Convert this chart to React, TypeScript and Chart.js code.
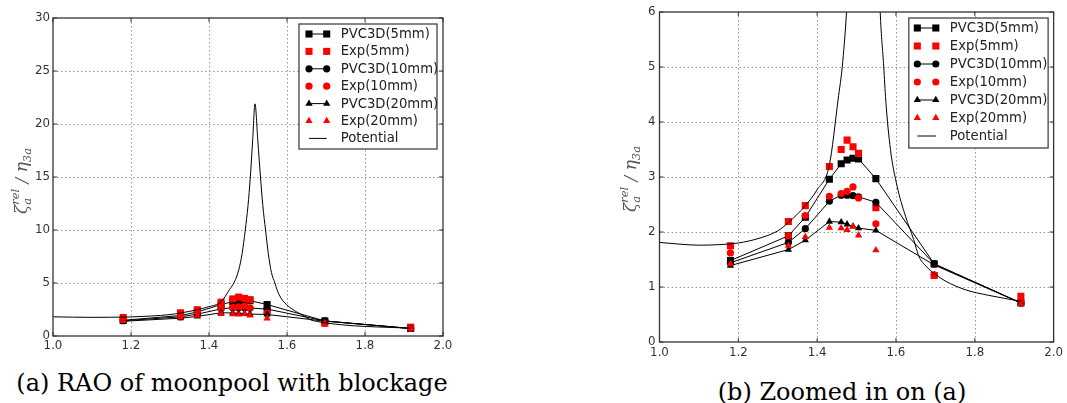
import React, { useEffect, useRef } from "react";
import { Chart, registerables } from "chart.js";

Chart.register(...registerables);

// ---------- data ----------
const frequency = [1.18, 1.327, 1.37, 1.431, 1.461, 1.476, 1.491, 1.505, 1.549, 1.697, 1.917];
const pvc3d5mm = [1.48, 1.93, 2.27, 2.96, 3.24, 3.31, 3.34, 3.33, 2.97, 1.42, 0.71];
const exp5mm = [1.75, 2.19, 2.48, 3.19, 3.5, 3.67, 3.55, 3.43, 2.44, 1.21, 0.83];
const pvc3d10mm = [1.44, 1.81, 2.06, 2.56, 2.67, 2.67, 2.66, 2.64, 2.54, 1.42, 0.71];
const exp10mm = [1.62, 1.93, 2.3, 2.65, 2.7, 2.74, 2.82, 2.62, 2.15, 1.22, 0.72];
const pvc3d20mm = [1.39, 1.68, 1.85, 2.19, 2.18, 2.14, 2.1, 2.07, 2.03, 1.4, 0.71];
const exp20mm = [1.42, 1.75, 1.91, 2.08, 2.07, 2.04, 2.1, 1.94, 1.67, 1.22, 0.7];

const potentialFreq = [
  1.0, 1.05, 1.1, 1.15, 1.2, 1.25, 1.3, 1.327, 1.37, 1.4, 1.431, 1.453, 1.465, 1.476, 1.485,
  1.493, 1.5, 1.506, 1.512, 1.518, 1.525, 1.532, 1.538, 1.545, 1.552, 1.56, 1.569, 1.574,
  1.586, 1.603, 1.624, 1.645, 1.658, 1.676, 1.7, 1.725, 1.776, 1.834, 1.917,
];
const potentialRao = [
  1.81, 1.78, 1.76, 1.77, 1.8, 1.88, 2.02, 2.17, 2.48, 2.77, 3.22, 4.4, 5.1, 6.2, 7.8,
  10, 12.3, 15, 18.5, 21.9, 18.5, 15, 12.3, 10, 7.8, 6.0, 5.0, 4.4,
  3.5, 2.83, 2.29, 1.86, 1.56, 1.38, 1.23, 1.11, 0.95, 0.85, 0.74,
];

const xTicks = [1.0, 1.2, 1.4, 1.6, 1.8, 2.0];
const yTicksFull = [0, 5, 10, 15, 20, 25, 30];
const yTicksZoom = [0, 1, 2, 3, 4, 5, 6];

const seriesLabels = [
  "PVC3D(5mm)",
  "Exp(5mm)",
  "PVC3D(10mm)",
  "Exp(10mm)",
  "PVC3D(20mm)",
  "Exp(20mm)",
  "Potential",
];
const captions = ["(a) RAO of moonpool with blockage", "(b) Zoomed in on (a)"];

// ---------- styles ----------
const RED = "#ff0000";
const BLACK = "#000000";
type Kind = "pvc" | "exp" | "pot";
type Marker = "rect" | "circle" | "triangle" | "none";

const seriesDefs: { label: string; y: number[]; kind: Kind; marker: Marker }[] = [
  { label: seriesLabels[0], y: pvc3d5mm, kind: "pvc", marker: "rect" },
  { label: seriesLabels[1], y: exp5mm, kind: "exp", marker: "rect" },
  { label: seriesLabels[2], y: pvc3d10mm, kind: "pvc", marker: "circle" },
  { label: seriesLabels[3], y: exp10mm, kind: "exp", marker: "circle" },
  { label: seriesLabels[4], y: pvc3d20mm, kind: "pvc", marker: "triangle" },
  { label: seriesLabels[5], y: exp20mm, kind: "exp", marker: "triangle" },
  { label: seriesLabels[6], y: [], kind: "pot", marker: "none" },
];

const markerRadius: Record<string, number> = { rect: 5, circle: 3.6, triangle: 4.2, none: 0 };

function drawMarker(ctx: CanvasRenderingContext2D, style: Marker, x: number, y: number, color: string) {
  const r = markerRadius[style];
  if (!r) return;
  ctx.fillStyle = color;
  ctx.beginPath();
  if (style === "rect") {
    const s = Math.SQRT1_2 * r;
    ctx.rect(x - s, y - s, 2 * s, 2 * s);
  } else if (style === "circle") {
    ctx.arc(x, y, r, 0, Math.PI * 2);
  } else {
    let rad = 0;
    ctx.moveTo(x + Math.sin(rad) * r, y - Math.cos(rad) * r);
    rad += (2 * Math.PI) / 3;
    ctx.lineTo(x + Math.sin(rad) * r, y - Math.cos(rad) * r);
    rad += (2 * Math.PI) / 3;
    ctx.lineTo(x + Math.sin(rad) * r, y - Math.cos(rad) * r);
    ctx.closePath();
  }
  ctx.fill();
}

type PanelSpec = {
  canvasLeft: number;
  canvasW: number;
  canvasH: number;
  padding: { top: number; right: number; bottom: number; left: number };
  yAxisW: number;
  xAxisH: number;
  yMax: number;
  yTicks: number[];
  xPad: number;
  yPad: number;
  titleX: number;
  titleY: number;
  legend: {
    insetRight: number;
    insetTop: number;
    w: number;
    h: number;
    firstY: number;
    spacing: number;
    m1: number;
    m2: number;
    textX: number;
  };
};

const panels: PanelSpec[] = [
  {
    canvasLeft: 0,
    canvasW: 470,
    canvasH: 360,
    padding: { top: 18, right: 27, bottom: 4, left: 0 },
    yAxisW: 53,
    xAxisH: 20,
    yMax: 30,
    yTicks: yTicksFull,
    xPad: 3,
    yPad: 3,
    titleX: 23,
    titleY: 181,
    legend: { insetRight: 6, insetTop: 6, w: 138, h: 125, firstY: 10, spacing: 17.4, m1: 10, m2: 27.7, textX: 41.7 },
  },
  {
    canvasLeft: 560,
    canvasW: 507,
    canvasH: 360,
    padding: { top: 12, right: 11, bottom: 0, left: 0 },
    yAxisW: 99.5,
    xAxisH: 18,
    yMax: 6,
    yTicks: yTicksZoom,
    xPad: 4,
    yPad: 4,
    titleX: 72,
    titleY: 179,
    legend: { insetRight: 5.5, insetTop: 6, w: 139.3, h: 130, firstY: 10, spacing: 18, m1: 8.5, m2: 27, textX: 41 },
  },
];

function drawYTitle(ctx: CanvasRenderingContext2D, cx: number, cy: number) {
  const big = 'italic 17px "DejaVu Serif"';
  const small = 'italic 11.5px "DejaVu Serif"';
  ctx.save();
  ctx.fillStyle = "#555";
  ctx.textBaseline = "alphabetic";
  ctx.textAlign = "left";
  ctx.font = big;
  const wZeta = ctx.measureText("ζ").width;
  const wSlash = ctx.measureText(" / ").width;
  const wEta = ctx.measureText("η").width;
  ctx.font = small;
  const wRel = ctx.measureText("rel").width;
  const wA = ctx.measureText("a").width;
  const w3a = ctx.measureText("3a").width;
  const total = wZeta + Math.max(wRel, wA) + wSlash + wEta + w3a;
  ctx.translate(cx, cy);
  ctx.rotate(-Math.PI / 2);
  const base = 4;
  let x = -total / 2;
  ctx.font = big;
  ctx.fillText("ζ", x, base);
  x += wZeta;
  ctx.font = small;
  ctx.fillText("rel", x, base - 8);
  ctx.fillText("a", x, base + 3.5);
  x += Math.max(wRel, wA);
  ctx.font = big;
  ctx.fillText(" / ", x, base);
  x += wSlash;
  ctx.fillText("η", x, base);
  x += wEta;
  ctx.font = small;
  ctx.fillText("3a", x, base + 3.5);
  ctx.restore();
}

function makeDecorPlugin(p: PanelSpec) {
  return {
    id: "decor",
    beforeDatasetsDraw(chart: any) {
      const { ctx, chartArea: a, scales } = chart;
      ctx.save();
      ctx.strokeStyle = "#999";
      ctx.lineWidth = 1;
      ctx.setLineDash([1.5, 2.5]);
      xTicks.slice(1, -1).forEach((v) => {
        const px = Math.round(scales.x.getPixelForValue(v)) + 0.5;
        ctx.beginPath();
        ctx.moveTo(px, a.top);
        ctx.lineTo(px, a.bottom);
        ctx.stroke();
      });
      p.yTicks.slice(1, -1).forEach((v) => {
        const py = Math.round(scales.y.getPixelForValue(v)) + 0.5;
        ctx.beginPath();
        ctx.moveTo(a.left, py);
        ctx.lineTo(a.right, py);
        ctx.stroke();
      });
      ctx.restore();
    },
    afterDatasetsDraw(chart: any) {
      const { ctx, chartArea: a, scales } = chart;
      ctx.save();
      ctx.strokeStyle = "#333";
      ctx.lineWidth = 1.3;
      ctx.setLineDash([]);
      ctx.strokeRect(a.left, a.top, a.right - a.left, a.bottom - a.top);
      ctx.lineWidth = 1;
      xTicks.forEach((v) => {
        const px = scales.x.getPixelForValue(v);
        ctx.beginPath();
        ctx.moveTo(px, a.bottom);
        ctx.lineTo(px, a.bottom - 4);
        ctx.moveTo(px, a.top);
        ctx.lineTo(px, a.top + 4);
        ctx.stroke();
      });
      p.yTicks.forEach((v) => {
        const py = scales.y.getPixelForValue(v);
        ctx.beginPath();
        ctx.moveTo(a.left, py);
        ctx.lineTo(a.left + 4, py);
        ctx.moveTo(a.right, py);
        ctx.lineTo(a.right - 4, py);
        ctx.stroke();
      });
      // legend
      const L = p.legend;
      const bx = a.right - L.insetRight - L.w;
      const by = a.top + L.insetTop;
      ctx.fillStyle = "#fff";
      ctx.fillRect(bx, by, L.w, L.h);
      ctx.strokeStyle = "#444";
      ctx.lineWidth = 1.3;
      ctx.strokeRect(bx, by, L.w, L.h);
      ctx.font = '13.2px "DejaVu Sans"';
      ctx.textBaseline = "middle";
      ctx.textAlign = "left";
      seriesDefs.forEach((s, i) => {
        const y = by + L.firstY + i * L.spacing;
        if (s.kind !== "exp") {
          ctx.strokeStyle = BLACK;
          ctx.lineWidth = 1;
          ctx.beginPath();
          ctx.moveTo(bx + L.m1, y);
          ctx.lineTo(bx + L.m2, y);
          ctx.stroke();
        }
        if (s.marker !== "none") {
          const c = s.kind === "exp" ? RED : BLACK;
          drawMarker(ctx, s.marker, bx + L.m1, y, c);
          drawMarker(ctx, s.marker, bx + L.m2, y, c);
        }
        ctx.fillStyle = "#222";
        ctx.fillText(s.label, bx + L.textX, y + 0.5);
      });
      drawYTitle(ctx, p.titleX, p.titleY);
      ctx.restore();
    },
  };
}

function buildDatasets() {
  return seriesDefs.map((s, i) => {
    const order = seriesDefs.length - 1 - i;
    if (s.kind === "pot") {
      return {
        type: "line",
        label: s.label,
        data: potentialFreq.map((x, j) => ({ x, y: potentialRao[j] })),
        borderColor: BLACK,
        borderWidth: 1,
        pointRadius: 0,
        cubicInterpolationMode: "monotone",
        fill: false,
        order,
      };
    }
    const color = s.kind === "exp" ? RED : BLACK;
    return {
      type: "line",
      label: s.label,
      data: frequency.map((x, j) => ({ x, y: s.y[j] })),
      showLine: s.kind === "pvc",
      borderColor: BLACK,
      borderWidth: 1,
      tension: 0,
      pointStyle: s.marker,
      pointRadius: markerRadius[s.marker],
      pointBackgroundColor: color,
      pointBorderColor: color,
      pointBorderWidth: 0,
      fill: false,
      order,
    };
  });
}

function Panel({ p }: { p: PanelSpec }) {
  const ref = useRef<HTMLCanvasElement | null>(null);
  useEffect(() => {
    if (!ref.current) return;
    const tickFont = { family: "DejaVu Sans", size: 11.8 };
    const chart = new Chart(ref.current, {
      type: "line",
      data: { datasets: buildDatasets() as any },
      options: {
        animation: false,
        responsive: false,
        maintainAspectRatio: false,
        devicePixelRatio: 1,
        parsing: false as any,
        normalized: true,
        layout: { padding: p.padding },
        plugins: { legend: { display: false }, tooltip: { enabled: false } },
        events: [],
        scales: {
          x: {
            type: "linear",
            min: 1,
            max: 2,
            afterBuildTicks: (s: any) => {
              s.ticks = xTicks.map((v) => ({ value: v }));
            },
            afterFit: (s: any) => {
              s.height = p.xAxisH;
            },
            ticks: {
              callback: (v: any) => Number(v).toFixed(1),
              font: tickFont,
              color: "#333",
              padding: p.xPad,
              maxRotation: 0,
              autoSkip: false,
            },
            grid: { display: false, drawTicks: false },
            border: { display: false },
          },
          y: {
            type: "linear",
            min: 0,
            max: p.yMax,
            afterBuildTicks: (s: any) => {
              s.ticks = p.yTicks.map((v) => ({ value: v }));
            },
            afterFit: (s: any) => {
              s.width = p.yAxisW;
            },
            ticks: {
              callback: (v: any) => String(v),
              font: tickFont,
              color: "#333",
              padding: p.yPad,
              autoSkip: false,
            },
            grid: { display: false, drawTicks: false },
            border: { display: false },
          },
        },
      },
      plugins: [makeDecorPlugin(p)],
    } as any);
    return () => chart.destroy();
  }, [p]);
  return (
    <canvas
      ref={ref}
      width={p.canvasW}
      height={p.canvasH}
      style={{ position: "absolute", left: p.canvasLeft, top: 0, width: p.canvasW, height: p.canvasH }}
    />
  );
}

const captionStyle: React.CSSProperties = {
  position: "absolute",
  fontFamily: '"DejaVu Serif", serif',
  fontSize: 24,
  lineHeight: "24px",
  whiteSpace: "nowrap",
  textAlign: "center",
  color: "#000",
};

export default function App() {
  return (
    <div style={{ position: "absolute", left: 0, top: 0, width: 1067, height: 403, background: "#fff", overflow: "hidden" }}>
      <Panel p={panels[0]} />
      <Panel p={panels[1]} />
      <div style={{ ...captionStyle, left: 0, width: 464, top: 371 }}>{captions[0]}</div>
      <div style={{ ...captionStyle, left: 642, width: 400, top: 380 }}>{captions[1]}</div>
    </div>
  );
}
